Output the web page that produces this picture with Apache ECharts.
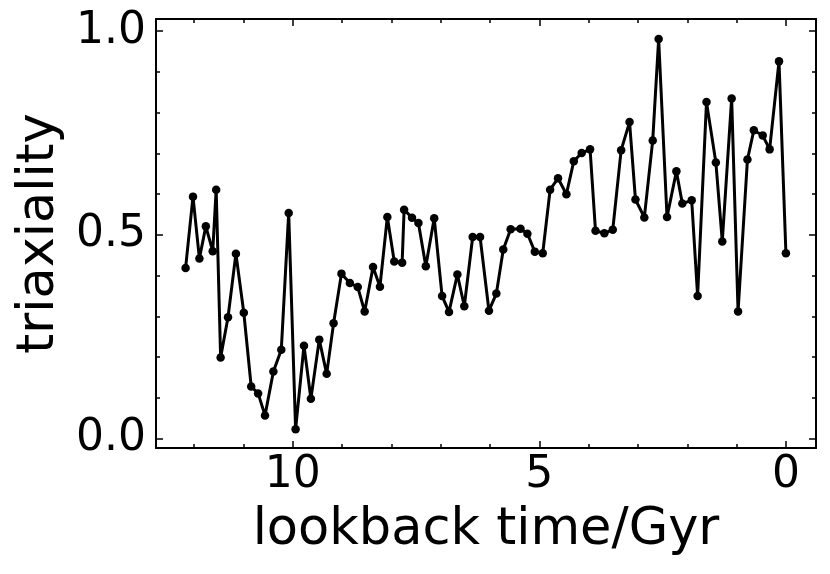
<!DOCTYPE html>
<html>
<head>
<meta charset="utf-8">
<script src="https://cdn.jsdelivr.net/npm/echarts@6/dist/echarts.min.js"></script>
<style>
  html, body { margin: 0; padding: 0; background: #fff; }
  #main { width: 830px; height: 574px; }
</style>
</head>
<body>
<div id="main"></div>
<script>
// lookback time in Gyr
const lookback = [12.17, 12.02, 11.89, 11.76, 11.62, 11.55, 11.46, 11.31, 11.15, 10.99,
  10.84, 10.70, 10.56, 10.39, 10.23, 10.08, 9.94, 9.77, 9.63, 9.46,
  9.31, 9.17, 9.01, 8.84, 8.68, 8.54, 8.37, 8.23, 8.08, 7.94,
  7.78, 7.74, 7.58, 7.45, 7.30, 7.13, 6.97, 6.83, 6.66, 6.52,
  6.35, 6.20, 6.02, 5.87, 5.73, 5.58, 5.38, 5.24, 5.09, 4.93,
  4.78, 4.62, 4.45, 4.30, 4.14, 3.97, 3.86, 3.68, 3.51, 3.34,
  3.17, 3.05, 2.87, 2.70, 2.58, 2.41, 2.22, 2.10, 1.91, 1.79,
  1.61, 1.42, 1.29, 1.10, 0.97, 0.78, 0.65, 0.47, 0.33, 0.14,
  0.00]

const triaxiality = [0.419, 0.594, 0.442, 0.521, 0.460, 0.611, 0.199, 0.298, 0.454, 0.309,
  0.128, 0.111, 0.057, 0.165, 0.218, 0.554, 0.023, 0.228, 0.098, 0.243,
  0.159, 0.283, 0.405, 0.382, 0.372, 0.312, 0.421, 0.373, 0.544, 0.435,
  0.432, 0.562, 0.542, 0.529, 0.423, 0.541, 0.350, 0.311, 0.403, 0.325,
  0.495, 0.495, 0.314, 0.356, 0.464, 0.514, 0.515, 0.503, 0.459, 0.455,
  0.611, 0.639, 0.600, 0.681, 0.701, 0.710, 0.510, 0.504, 0.513, 0.708,
  0.777, 0.587, 0.543, 0.732, 0.981, 0.544, 0.656, 0.577, 0.585, 0.350,
  0.826, 0.678, 0.484, 0.835, 0.312, 0.685, 0.757, 0.744, 0.710, 0.926,
  0.455]

// ticks
const xMajor = [10, 5, 0]
const xMinor = [12, 11, 9, 8, 7, 6, 4, 3, 2, 1]
const yMajor = [0, 0.5, 1.0]
const yMinor = [0.1, 0.2, 0.3, 0.4, 0.6, 0.7, 0.8, 0.9]

const FONT = 'DejaVu Sans'
const X_MIN = -0.61, X_MAX = 12.77
const Y_MIN = -0.023, Y_MAX = 1.03

const chart = echarts.init(document.getElementById('main'))

// one axis per side for major ticks, one for minor
function xAx(pos, ticks, len, main) {
  return {
    type: 'value', position: pos, inverse: true, min: X_MIN, max: X_MAX,
    splitLine: { show: false },
    axisLine: { show: main, onZero: false, lineStyle: { color: '#000', width: 2 } },
    axisTick: { show: true, inside: true, length: len, customValues: ticks,
      lineStyle: { color: '#000', width: 1.5 } },
    axisLabel: { show: main && pos === 'bottom', customValues: ticks, margin: 6,
      color: '#000', fontFamily: FONT, fontSize: 44 },
    name: main && pos === 'bottom' ? 'lookback time/Gyr' : '',
    nameLocation: 'middle', nameGap: 57,
    nameTextStyle: { color: '#000', fontFamily: FONT, fontSize: 51 }
  }
}

function yAx(pos, ticks, len, main) {
  return {
    type: 'value', position: pos, min: Y_MIN, max: Y_MAX,
    splitLine: { show: false },
    axisLine: { show: main, onZero: false, lineStyle: { color: '#000', width: 2 } },
    axisTick: { show: true, inside: true, length: len, customValues: ticks,
      lineStyle: { color: '#000', width: 1.5 } },
    axisLabel: { show: main && pos === 'left', customValues: ticks, margin: 10,
      color: '#000', fontFamily: FONT, fontSize: 44,
      formatter: v => v.toFixed(1) },
    name: main && pos === 'left' ? 'triaxiality' : '',
    nameLocation: 'middle', nameGap: 84,
    nameTextStyle: { color: '#000', fontFamily: FONT, fontSize: 51 }
  }
}

chart.setOption({
  animation: false,
  grid: { left: 156, right: 14, top: 19, bottom: 126, containLabel: false },
  xAxis: [
    xAx('bottom', xMajor, 7, true),
    xAx('bottom', xMinor, 4, false),
    xAx('top', xMajor, 7, true),
    xAx('top', xMinor, 4, false)
  ],
  yAxis: [
    yAx('left', yMajor, 7, true),
    yAx('left', yMinor, 4, false),
    yAx('right', yMajor, 7, true),
    yAx('right', yMinor, 4, false)
  ],
  series: [{
    type: 'line',
    xAxisIndex: 0,
    yAxisIndex: 0,
    data: lookback.map((t, i) => [t, triaxiality[i]]),
    symbol: 'circle',
    symbolSize: 8.5,
    showAllSymbol: true,
    lineStyle: { color: '#000', width: 3 },
    itemStyle: { color: '#000' }
  }]
})
</script>
</body>
</html>
